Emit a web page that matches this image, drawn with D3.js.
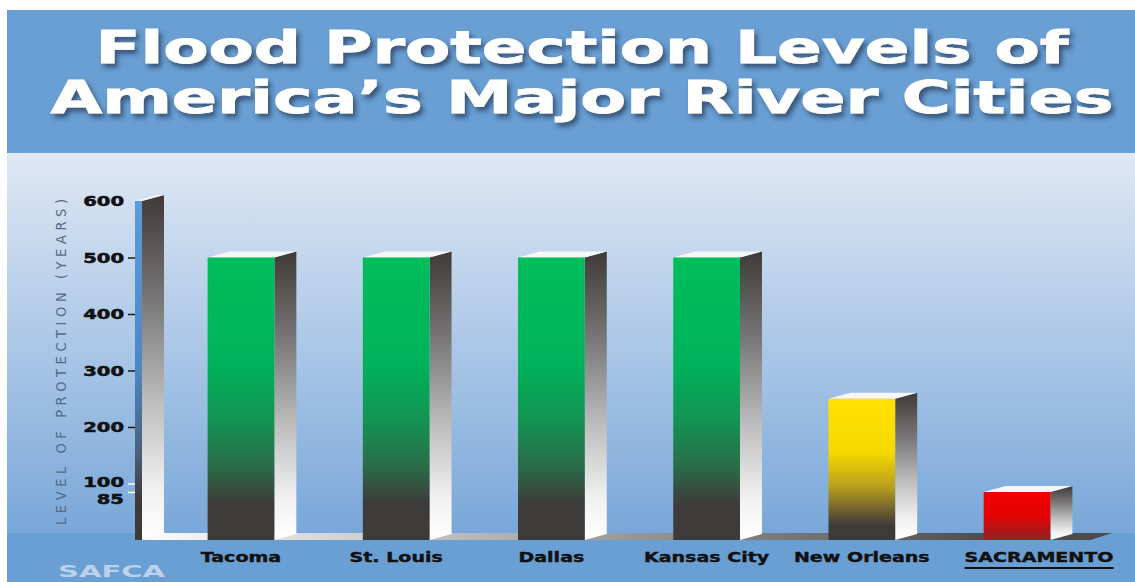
<!DOCTYPE html>
<html>
<head>
<meta charset="utf-8">
<script src="https://cdn.jsdelivr.net/npm/d3@7"></script>
<style>
  body { margin: 0; background: #fff; }
  svg { display: block; }
</style>
</head>
<body>
<div id="chart"></div>
<script>
// chart data
var cities = ["Tacoma", "St. Louis", "Dallas", "Kansas City", "New Orleans", "SACRAMENTO"];
var protectionYears = [500, 500, 500, 500, 250, 85];
var barColors = ["green", "green", "green", "green", "yellow", "red"];
var tickValues = [85, 100, 200, 300, 400, 500, 600];
var titleLines = ["Flood Protection Levels of", "America\u2019s Major River Cities"];
var axisTitle = "LEVEL OF PROTECTION (YEARS)";
var highlightCity = "SACRAMENTO";

var svgWidth = 1135;
var svgHeight = 582;

var svg = d3.select("#chart").append("svg")
    .attr("width", svgWidth)
    .attr("height", svgHeight);

var defs = svg.append("defs");

// helper for the vertical gradients used on every face
function vGradient(id, stops) {
    var g = defs.append("linearGradient")
        .attr("id", id)
        .attr("x1", 0).attr("y1", 0)
        .attr("x2", 0).attr("y2", 1);
    stops.forEach(function(s) {
        g.append("stop").attr("offset", s[0]).attr("stop-color", s[1]);
    });
}

vGradient("bg", [[0, "#dfe8f4"], [1, "#79a7d9"]]);
vGradient("green", [[0, "#00be5c"], [0.38, "#00b25a"], [0.58, "#149252"], [0.74, "#2a6c48"], [0.87, "#3e3c3a"], [1, "#3e3a38"]]);
vGradient("yellow", [[0, "#ffe200"], [0.38, "#f6d800"], [0.62, "#b9a01e"], [0.8, "#6a5b30"], [0.9, "#3e3a38"], [1, "#3e3a38"]]);
vGradient("red", [[0, "#f20000"], [0.5, "#e20404"], [0.85, "#a81818"], [1, "#8c2626"]]);
vGradient("side", [[0, "#3e3a38"], [0.3, "#787676"], [0.6, "#bdbdbd"], [0.85, "#f0f0f0"], [1, "#ffffff"]]);
vGradient("wall", [[0, "#5c9cd9"], [0.5, "#4e86c0"], [0.75, "#4a5e78"], [0.88, "#3e3a38"], [1, "#3e3a38"]]);

var floorGrad = defs.append("linearGradient")
    .attr("id", "floor")
    .attr("gradientUnits", "userSpaceOnUse")
    .attr("x1", 150).attr("y1", 0)
    .attr("x2", 1000).attr("y2", 0);
floorGrad.append("stop").attr("offset", 0).attr("stop-color", "#fbfbfb");
floorGrad.append("stop").attr("offset", 1).attr("stop-color", "#4b4b4b");

// title shadow
var shadow = defs.append("filter").attr("id", "shadow")
    .attr("x", -0.05).attr("y", -0.3).attr("width", 1.1).attr("height", 1.6);
shadow.append("feDropShadow")
    .attr("dx", 3).attr("dy", 4)
    .attr("stdDeviation", 2.5)
    .attr("flood-color", "#1d2c46")
    .attr("flood-opacity", 0.65);

// background panels
svg.append("rect")
    .attr("x", 7).attr("y", 10)
    .attr("width", svgWidth - 7).attr("height", 143)
    .attr("fill", "#699fd3");

svg.append("rect")
    .attr("x", 7).attr("y", 153)
    .attr("width", svgWidth - 7).attr("height", 380)
    .attr("fill", "url(#bg)");

svg.append("rect")
    .attr("x", 7).attr("y", 533)
    .attr("width", svgWidth - 7).attr("height", 49)
    .attr("fill", "#6a9fd4");

// title
var titleGroup = svg.append("g").attr("filter", "url(#shadow)");
var titleBaselines = [63, 113];
var titleWidths = [973, 1063];
titleGroup.selectAll("text")
    .data(titleLines)
    .enter()
    .append("text")
    .attr("x", 582)
    .attr("y", (d, i) => titleBaselines[i])
    .attr("text-anchor", "middle")
    .attr("textLength", (d, i) => titleWidths[i])
    .attr("lengthAdjust", "spacingAndGlyphs")
    .attr("font-family", "DejaVu Sans")
    .attr("font-weight", "bold")
    .attr("font-size", 44)
    .attr("fill", "#ffffff")
    .attr("stroke", "#ffffff")
    .attr("stroke-width", 0.8)
    .text(d => d);

// scales
var data = cities.map(function(c, i) {
    return { city: c, value: protectionYears[i], color: barColors[i] };
});

var xScale = d3.scaleBand()
    .domain(cities)
    .range([130, 1128])
    .paddingInner(0.57)
    .paddingOuter(0.5);

var yScale = d3.scaleLinear()
    .domain([0, 600])
    .range([540, 201]);

var depthX = 22;
var depthY = 6;
var y0 = yScale(0);
var wallX = 135;
var wallW = 7;

// floor strip behind the bars
var lastRight = xScale(cities[cities.length - 1]) + xScale.bandwidth() + 40;
svg.append("polygon")
    .attr("points", [
        [wallX + wallW, y0],
        [lastRight, y0],
        [lastRight + depthX, y0 - depthY - 1],
        [wallX + wallW + depthX, y0 - depthY - 1]
    ].join(" "))
    .attr("fill", "url(#floor)");

// axis wall (front strip, side, top)
var wallTop = yScale(600);
svg.append("rect")
    .attr("x", wallX).attr("y", wallTop)
    .attr("width", wallW).attr("height", y0 - wallTop)
    .attr("fill", "url(#wall)");
svg.append("polygon")
    .attr("points", [
        [wallX + wallW, wallTop],
        [wallX + wallW + depthX, wallTop - depthY],
        [wallX + wallW + depthX, y0 - depthY],
        [wallX + wallW, y0]
    ].join(" "))
    .attr("fill", "url(#side)");
svg.append("polygon")
    .attr("points", [
        [wallX, wallTop],
        [wallX + wallW, wallTop],
        [wallX + wallW + depthX, wallTop - depthY],
        [wallX + depthX, wallTop - depthY]
    ].join(" "))
    .attr("fill", "#f4f4f4");

// bars
var bars = svg.selectAll(".bar")
    .data(data)
    .enter()
    .append("g")
    .attr("class", "bar");

bars.append("polygon")
    .attr("points", function(d) {
        var x1 = xScale(d.city) + xScale.bandwidth();
        var yt = yScale(d.value);
        return [[x1, yt], [x1 + depthX, yt - depthY], [x1 + depthX, y0 - depthY], [x1, y0]].join(" ");
    })
    .attr("fill", "url(#side)");

bars.append("polygon")
    .attr("points", function(d) {
        var x0 = xScale(d.city);
        var x1 = x0 + xScale.bandwidth();
        var yt = yScale(d.value);
        return [[x0, yt], [x1, yt], [x1 + depthX, yt - depthY], [x0 + depthX, yt - depthY]].join(" ");
    })
    .attr("fill", "#f7f7f7");

bars.append("rect")
    .attr("x", d => xScale(d.city))
    .attr("y", d => yScale(d.value))
    .attr("width", xScale.bandwidth())
    .attr("height", d => y0 - yScale(d.value))
    .attr("fill", d => "url(#" + d.color + ")");

// y axis
var yAxis = svg.append("g")
    .attr("transform", `translate(${wallX}, 0)`)
    .call(d3.axisLeft(yScale).tickValues(tickValues).tickSize(7).tickPadding(4));

yAxis.select(".domain").remove();
yAxis.selectAll(".tick line")
    .attr("stroke", d => d < 150 ? "#ffffff" : "#1a1a1a")
    .attr("stroke-width", 1.5)
    .attr("opacity", d => d === 600 ? 0 : 1);
yAxis.selectAll(".tick text")
    .attr("font-family", "DejaVu Sans")
    .attr("font-weight", "bold")
    .attr("font-size", 13.5)
    .attr("fill", "#111")
    .attr("stroke", "#111")
    .attr("stroke-width", 0.5)
    .attr("dy", d => d === 85 ? "0.85em" : (d === 100 ? "0.2em" : "0.34em"))
    .each(function() {
        var w = this.getComputedTextLength();
        d3.select(this).attr("textLength", w * 1.45).attr("lengthAdjust", "spacingAndGlyphs");
    });

// rotated axis title
svg.append("text")
    .attr("transform", "rotate(-90)")
    .attr("x", -362)
    .attr("y", 66)
    .attr("text-anchor", "middle")
    .attr("textLength", 326)
    .attr("lengthAdjust", "spacing")
    .attr("font-family", "DejaVu Sans Condensed")
    .attr("font-size", 14.5)
    .attr("fill", "#566b86")
    .text(axisTitle);

// city labels
var labels = svg.selectAll(".city-label")
    .data(data)
    .enter()
    .append("text")
    .attr("class", "city-label")
    .attr("x", d => xScale(d.city) + xScale.bandwidth() / 2 + (d.city === highlightCity ? depthX : 0))
    .attr("y", 562)
    .attr("text-anchor", "middle")
    .attr("font-family", "DejaVu Sans")
    .attr("font-weight", "bold")
    .attr("font-size", 14)
    .attr("fill", "#111")
    .attr("stroke", "#111")
    .attr("stroke-width", 0.4)
    .text(d => d.city)
    .each(function() {
        var w = this.getComputedTextLength();
        d3.select(this).attr("textLength", w * 1.36).attr("lengthAdjust", "spacingAndGlyphs");
    });

// underline the highlighted city
labels.filter(d => d.city === highlightCity).each(function(d) {
    var w = +d3.select(this).attr("textLength");
    var cx = +d3.select(this).attr("x");
    svg.append("line")
        .attr("x1", cx - w / 2).attr("x2", cx + w / 2)
        .attr("y1", 568).attr("y2", 568)
        .attr("stroke", "#111")
        .attr("stroke-width", 2);
});

// faded logo at the bottom edge
svg.append("text")
    .attr("x", 58)
    .attr("y", 577)
    .attr("textLength", 107)
    .attr("lengthAdjust", "spacingAndGlyphs")
    .attr("font-family", "DejaVu Sans")
    .attr("font-weight", "bold")
    .attr("font-size", 16)
    .attr("fill", "#bcd1ea")
    .text("SAFCA");
</script>
</body>
</html>
